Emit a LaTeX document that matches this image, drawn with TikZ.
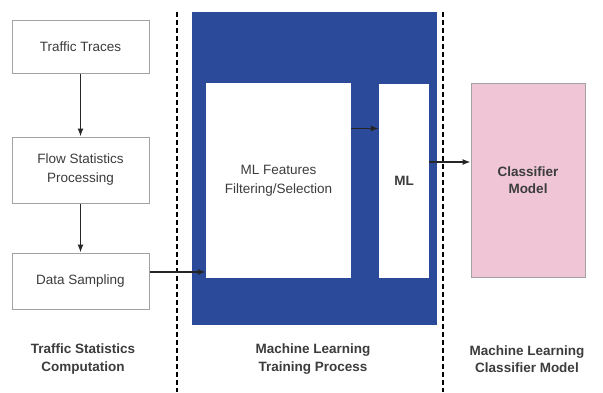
\documentclass[tikz,border=0pt]{standalone}
\usepackage{fontspec}
\setmainfont{Liberation Sans}
\usetikzlibrary{arrows.meta,positioning}
\definecolor{navy}{HTML}{2C4A9A}
\definecolor{frame}{HTML}{A2A2A2}
\definecolor{ink}{HTML}{3C3C3C}
\definecolor{wire}{HTML}{262626}
\definecolor{blush}{HTML}{F0C6D6}

\begin{document}
\begin{tikzpicture}[x=1pt,y=-1pt,
stage/.style={draw=frame,line width=1pt,fill=white,align=center,minimum width=137pt,text=ink,font=\fontsize{13.5}{19}\selectfont},
inner/.style={fill=white,align=center,text=ink,font=\fontsize{13.5}{19}\selectfont},
caption/.style={align=center,text=ink,font=\bfseries\fontsize{13.5}{17.5}\selectfont},
arr/.style={-{Latex[length=8pt,width=6pt]},line width=1.2pt,color=wire},
sep/.style={dashed,dash pattern=on 5pt off 3pt,line width=1.6pt,color=black}
]
\useasboundingbox (0,0) rectangle (603,392);
% left column
\node[stage,minimum height=53pt] (traces) at (80.5,46.5) {Traffic Traces};
\node[stage,minimum height=66pt] (flow) at (80.5,170) {Flow Statistics\\Processing};
\node[stage,minimum height=56pt] (samp) at (80.5,281) {Data Sampling};
% training block
\node[fill=navy,minimum width=245pt,minimum height=313pt] (train) at (314.5,168.5) {};
\node[inner,minimum width=145pt,minimum height=195pt] (feat) at (278.5,180.5) {ML Features\\Filtering/Selection};
\node[inner,minimum width=50pt,minimum height=194pt,font=\bfseries\fontsize{13.5}{19}\selectfont] (ml) at (404,181) {ML};
% classifier
\node[draw=frame,line width=1pt,fill=blush,minimum width=114pt,minimum height=194pt,align=center,text=ink,font=\bfseries\fontsize{13.5}{17}\selectfont] (clf) at (528,180) {Classifier\\Model};
% separators
\draw[sep] (177,12) -- (177,392);
\draw[sep] (443,12) -- (443,392);
% connectors
\draw[arr] (traces) -- (flow);
\draw[arr] (flow) -- (samp);
\draw[arr] ([yshift=9pt]samp.east) coordinate (s) -- (s -| feat.west);
\draw[arr] ([yshift=52pt]feat.east) coordinate (f) -- (f -| ml.west);
\draw[arr] ([yshift=19pt]ml.east) coordinate (m) -- (m -| clf.west);
% captions
\node[caption] (c1) at (83,359) {Traffic Statistics\\Computation};
\node[caption] (c2) at (313,359) {Machine Learning\\Training Process};
\node[caption] (c3) at (527,359) {Machine Learning\\Classifier Model};
\end{tikzpicture}
\end{document}
